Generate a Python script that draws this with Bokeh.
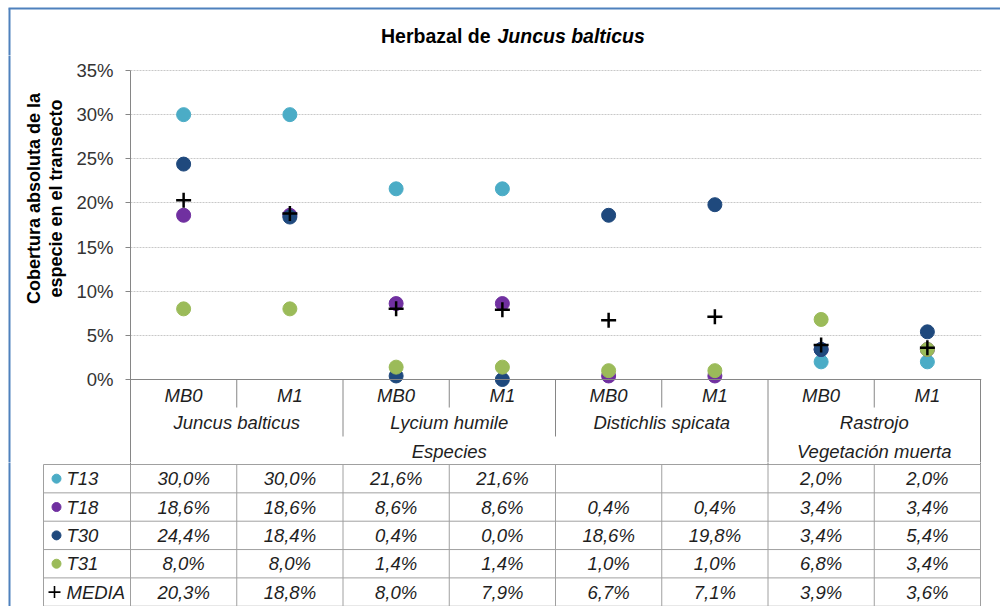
import math
from bokeh.plotting import figure
from bokeh.layouts import column, row
from bokeh.models import Range1d, FixedTicker, NumeralTickFormatter, Span
from bokeh.core.properties import value
from bokeh.embed import file_html
from bokeh.resources import INLINE

nan = float("nan")

# ---------------- data ----------------
groups = ["Especies", "Vegetación muerta"]
group_of_species = ["Especies", "Especies", "Especies", "Vegetación muerta"]
species = ["Juncus balticus", "Lycium humile", "Distichlis spicata", "Rastrojo"]
periods = ["MB0", "M1"]
series_names = ["T13", "T18", "T30", "T31", "MEDIA"]
T13 = [0.300, 0.300, 0.216, 0.216, nan, nan, 0.020, 0.020]
T18 = [0.186, 0.186, 0.086, 0.086, 0.004, 0.004, 0.034, 0.034]
T30 = [0.244, 0.184, 0.004, 0.000, 0.186, 0.198, 0.034, 0.054]
T31 = [0.080, 0.080, 0.014, 0.014, 0.010, 0.010, 0.068, 0.034]
MEDIA = [0.203, 0.188, 0.080, 0.079, 0.067, 0.071, 0.039, 0.036]
y_ticks = [0, 0.05, 0.10, 0.15, 0.20, 0.25, 0.30, 0.35]

series_values = [T13, T18, T30, T31, MEDIA]
colors = ["#4BACC6", "#7030A0", "#1F497D", "#9BBB59", "#000000"]

FONT = value("Liberation Sans")
FS = "18.5px"
BORDER = "#4F81BD"
GRID = "#C8C8C8"
AXIS = "#868686"
TABLE = "#A0A0A0"
TXT = "#1E1E1E"

n_cat = len(species) * len(periods)
xc = [i + 0.5 for i in range(n_cat)]

# ---------------- layout constants (page px) ----------------
W = 1000
PX = 850 / n_cat            # px per category
YMAX = 0.35
YPX = YMAX / 309            # data units per px
BELOW = 83                  # px from the 0 line to the table top
BX = 9                      # chart-area border x
BY = 8                      # chart-area border y
HT = 55                     # title strip height
TOPPAD = 70 - HT            # px between strip top and the 35% line


def ux(page_x):
    return (page_x - 130) / PX


# ---------------- title ----------------
pT = figure(width=W, height=HT, x_range=Range1d(0, W), y_range=Range1d(HT, 0),
            min_border=0, x_axis_location=None, y_axis_location=None,
            toolbar_location=None, output_backend="svg", outline_line_color=None)
pT.xgrid.visible = False
pT.ygrid.visible = False
pT.text(x=[490], y=[35], text=["Herbazal de"], text_align="right", text_baseline="middle",
        text_font=FONT, text_font_size="19.5px", text_font_style="bold", text_color="#000000")
pT.text(x=[497], y=[35], text=["Juncus balticus"], text_align="left", text_baseline="middle",
        text_font=FONT, text_font_size="19.5px", text_font_style="bold italic", text_color="#000000")
pT.segment(x0=[BX - 1], y0=[BY], x1=[W], y1=[BY], line_color=BORDER, line_width=2)
pT.segment(x0=[BX], y0=[BY], x1=[BX], y1=[HT + 5], line_color=BORDER, line_width=2)

# ---------------- y-axis title ----------------
HL = 407
WL = 70
pL = figure(width=WL, height=HL, x_range=Range1d(0, WL), y_range=Range1d(HL, 0),
            min_border=0, x_axis_location=None, y_axis_location=None,
            toolbar_location=None, output_backend="svg", outline_line_color=None)
pL.xgrid.visible = False
pL.ygrid.visible = False
pL.text(x=[33, 55], y=[198 - HT, 198 - HT], text=["Cobertura absoluta de la", "especie en el transecto"],
        angle=math.pi / 2, text_align="center", text_baseline="middle",
        text_font=FONT, text_font_size="18px", text_font_style="bold", text_color="#000000")
pL.segment(x0=[BX], y0=[-5], x1=[BX], y1=[HL + 5], line_color=BORDER, line_width=2)

# ---------------- main chart ----------------
ystart = -BELOW * YPX
pA = figure(width=W - WL, height=HL,
            x_range=Range1d(0, n_cat * 851 / 850), y_range=Range1d(ystart, YMAX + TOPPAD * YPX),
            min_border_left=60, min_border_right=W - 981, min_border_top=0, min_border_bottom=0,
            x_axis_location=None, y_axis_location="left",
            toolbar_location=None, output_backend="svg", outline_line_color=None)
ax = pA.yaxis[0]
ax.ticker = FixedTicker(ticks=y_ticks)
ax.bounds = (ystart, YMAX)
ax.formatter = NumeralTickFormatter(format="0%")
ax.major_tick_out = 5
ax.major_tick_in = 0
ax.minor_tick_out = 0
ax.minor_tick_in = 0
ax.axis_line_color = AXIS
ax.major_tick_line_color = AXIS
ax.major_label_text_font = "Liberation Sans"
ax.major_label_text_font_size = FS
ax.major_label_text_color = "#333333"
ax.major_label_standoff = 12
pA.xgrid.visible = False
pA.ygrid.ticker = FixedTicker(ticks=[t for t in y_ticks if t > 0])
pA.ygrid.grid_line_color = GRID
pA.ygrid.grid_line_dash = "2 1"
pA.add_layout(Span(location=0, dimension="width", line_color=AXIS, line_width=1))

# separators of the category axis
sep1 = [i for i in range(1, n_cat) if i % 2 == 1]
sep2, sep3 = [], []
for s in range(1, len(species)):
    b = s * len(periods)
    if group_of_species[s] != group_of_species[s - 1]:
        sep3.append(b)
    else:
        sep2.append(b)
sep3.append(n_cat)
pA.segment(x0=sep1, y0=[0] * len(sep1), x1=sep1, y1=[-28 * YPX] * len(sep1), line_color=AXIS)
pA.segment(x0=sep2, y0=[0] * len(sep2), x1=sep2, y1=[-57 * YPX] * len(sep2), line_color=AXIS)
pA.segment(x0=sep3, y0=[0] * len(sep3), x1=sep3, y1=[ystart - 5 * YPX] * len(sep3), line_color=AXIS)

# category labels
pA.text(x=xc, y=[-16 * YPX] * n_cat, text=periods * len(species),
        text_align="center", text_baseline="middle", text_font=FONT,
        text_font_size=FS, text_font_style="italic", text_color=TXT)
pA.text(x=[2 * i + 1 for i in range(len(species))], y=[-43 * YPX] * len(species), text=species,
        text_align="center", text_baseline="middle", text_font=FONT,
        text_font_size=FS, text_font_style="italic", text_color=TXT)
gx = []
for g in groups:
    idx = [i for i, s in enumerate(group_of_species) if s == g]
    gx.append((idx[0] * 2 + (idx[-1] + 1) * 2) / 2)
pA.text(x=gx, y=[-71.5 * YPX] * len(groups), text=groups,
        text_align="center", text_baseline="middle", text_font=FONT,
        text_font_size=FS, text_font_style="italic", text_color=TXT)

# markers
for name, vals, col in zip(series_names, series_values, colors):
    if name == "MEDIA":
        pA.scatter(x=xc, y=vals, marker="cross", size=15, line_width=2.5, line_color=col)
    else:
        pA.scatter(x=xc, y=vals, marker="circle", size=14, fill_color=col, line_color=col)

# ---------------- data table ----------------
HB = 606 - HT - HL
RH = 28.35
n_rows = len(series_names)
ytop = 462
pB = figure(width=W, height=HB,
            x_range=Range1d(ux(0), ux(W)), y_range=Range1d((606 - 464) / RH, (ytop - 464) / RH),
            min_border=0, x_axis_location=None, y_axis_location=None,
            toolbar_location=None, output_backend="svg", outline_line_color=None)
pB.xgrid.visible = False
pB.ygrid.visible = False
xl = ux(43)
# horizontal lines
pB.segment(x0=[xl] * (n_rows + 1), y0=list(range(n_rows + 1)), x1=[n_cat] * (n_rows + 1),
           y1=list(range(n_rows + 1)), line_color=TABLE)
# vertical lines
vx = [xl] + list(range(n_cat + 1))
pB.segment(x0=vx, y0=[0] * len(vx), x1=vx, y1=[n_rows] * len(vx), line_color=TABLE)
vtop = [0] + sep3
pB.segment(x0=vtop, y0=[(ytop - 470) / RH] * len(vtop), x1=vtop, y1=[0] * len(vtop), line_color=AXIS)
# legend keys
ry = [r + 0.5 for r in range(n_rows)]
pB.scatter(x=[ux(56)] * 4, y=ry[:4], marker="circle", size=9, fill_color=colors[:4], line_color=colors[:4])
pB.scatter(x=[ux(54)], y=[ry[4]], marker="cross", size=12, line_width=1.6, line_color="#000000")
pB.text(x=[ux(66)] * n_rows, y=ry, text=series_names, text_align="left", text_baseline="middle",
        text_font=FONT, text_font_size=FS, text_font_style="italic", text_color=TXT)
# values
tx, ty, tt = [], [], []
for r, vals in enumerate(series_values):
    for i, v in enumerate(vals):
        if v == v:
            tx.append(i + 0.5)
            ty.append(r + 0.5)
            tt.append(f"{v * 100:.1f}%".replace(".", ","))
pB.text(x=tx, y=ty, text=tt, text_align="center", text_baseline="middle",
        text_font=FONT, text_font_size=FS, text_font_style="italic", text_color=TXT)
pB.segment(x0=[ux(BX)], y0=[(ytop - 470) / RH], x1=[ux(BX)], y1=[(620 - 464) / RH],
           line_color=BORDER, line_width=2)

layout = column(pT, row(pL, pA), pB)
open("out.html", "w").write(file_html(layout, INLINE))
